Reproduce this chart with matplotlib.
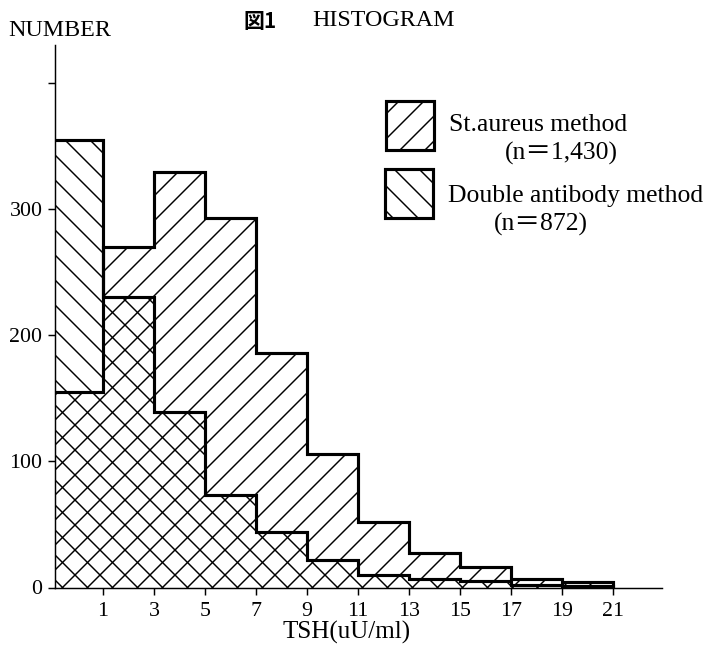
import matplotlib.pyplot as plt
from matplotlib.patches import Rectangle
import numpy as np

plt.rcParams['font.family'] = ['Liberation Serif', 'DejaVu Serif']
plt.rcParams['hatch.linewidth'] = 0.7
plt.rcParams['hatch.color'] = 'black'

# bin edges (TSH uU/ml) and counts
edges = [-1, 1, 3, 5, 7, 9, 11, 13, 15, 17, 19, 21]
st_aureus = [155, 270, 329, 293, 186, 106, 52, 27, 16, 7, 4]
double_ab = [355, 230, 139, 73, 44, 22, 10, 7, 5, 2, 1]
xticks = [1, 3, 5, 7, 9, 11, 13, 15, 17, 19, 21]
yticks = [0, 100, 200, 300, 400]
ytick_labels = ["0", "100", "200", "300", ""]

W, H = 705, 647
fig = plt.figure(figsize=(W / 150, H / 150), dpi=150)


def fx(px):
    return px / W


def fy(py):
    return 1 - py / H


ax = fig.add_axes([fx(55), fy(587.5), fx(662) - fx(55), fy(45) - fy(587.5)])

left = np.array(edges[:-1])
widths = np.diff(edges)
# hatching only, transparent faces so the overlap comes out cross-hatched
ax.bar(left, double_ab, width=widths, align='edge', fill=False,
       hatch='\\\\', linewidth=0, edgecolor='black')
ax.bar(left, st_aureus, width=widths, align='edge', fill=False,
       hatch='//', linewidth=0, edgecolor='black')
# thick outlines
ax.stairs(double_ab, edges, color='black', linewidth=1.5)
ax.stairs(st_aureus, edges, color='black', linewidth=1.5)

ax.set_xlim(-0.88, 22.93)
ax.set_ylim(0, 430)
ax.spines['top'].set_visible(False)
ax.spines['right'].set_visible(False)
ax.spines['left'].set_linewidth(0.7)
ax.spines['bottom'].set_linewidth(0.7)

ax.set_xticks(xticks)
ax.set_xticklabels([str(t) for t in xticks], fontsize=10.5)
ax.set_yticks(yticks)
ax.set_yticklabels(ytick_labels, fontsize=10.5)
ax.tick_params(direction='out', length=3.5, width=0.7)
ax.tick_params(axis='x', pad=3.5)
ax.tick_params(axis='y', pad=2.5)

fig.text(fx(347), fy(632), "TSH(uU/ml)", fontsize=12, ha='center', va='center')
fig.text(fx(8), fy(31), "NUMBER", fontsize=11.5, ha='left', va='center')

# title
fig.text(fx(243), fy(21), "図1", fontsize=10, ha='left', va='center',
         family=['Noto Sans CJK JP', 'DejaVu Sans'], weight='bold')
fig.text(fx(312), fy(21), "HISTOGRAM", fontsize=11.5, ha='left', va='center')

# legend drawn by hand
boxes = [(386, 101, '//'), (385, 169, '\\\\')]
for bx, by, h in boxes:
    fig.patches.append(Rectangle((fx(bx), fy(by + 49)), fx(48), 49 / H,
                                 transform=fig.transFigure, fill=False,
                                 hatch=h, edgecolor='black', linewidth=1.5))
leg_font = ['Liberation Serif', 'Noto Sans CJK JP']
fig.text(fx(449), fy(125), "St.aureus method", fontsize=12.3, ha='left', va='center')
fig.text(fx(505), fy(153), "(n＝1,430)", fontsize=12.3, ha='left', va='center',
         family=leg_font)
fig.text(fx(448), fy(196), "Double antibody method", fontsize=12.3, ha='left', va='center')
fig.text(fx(494), fy(224), "(n＝872)", fontsize=12.3, ha='left', va='center',
         family=leg_font)

fig.savefig("out.png", dpi=150)
